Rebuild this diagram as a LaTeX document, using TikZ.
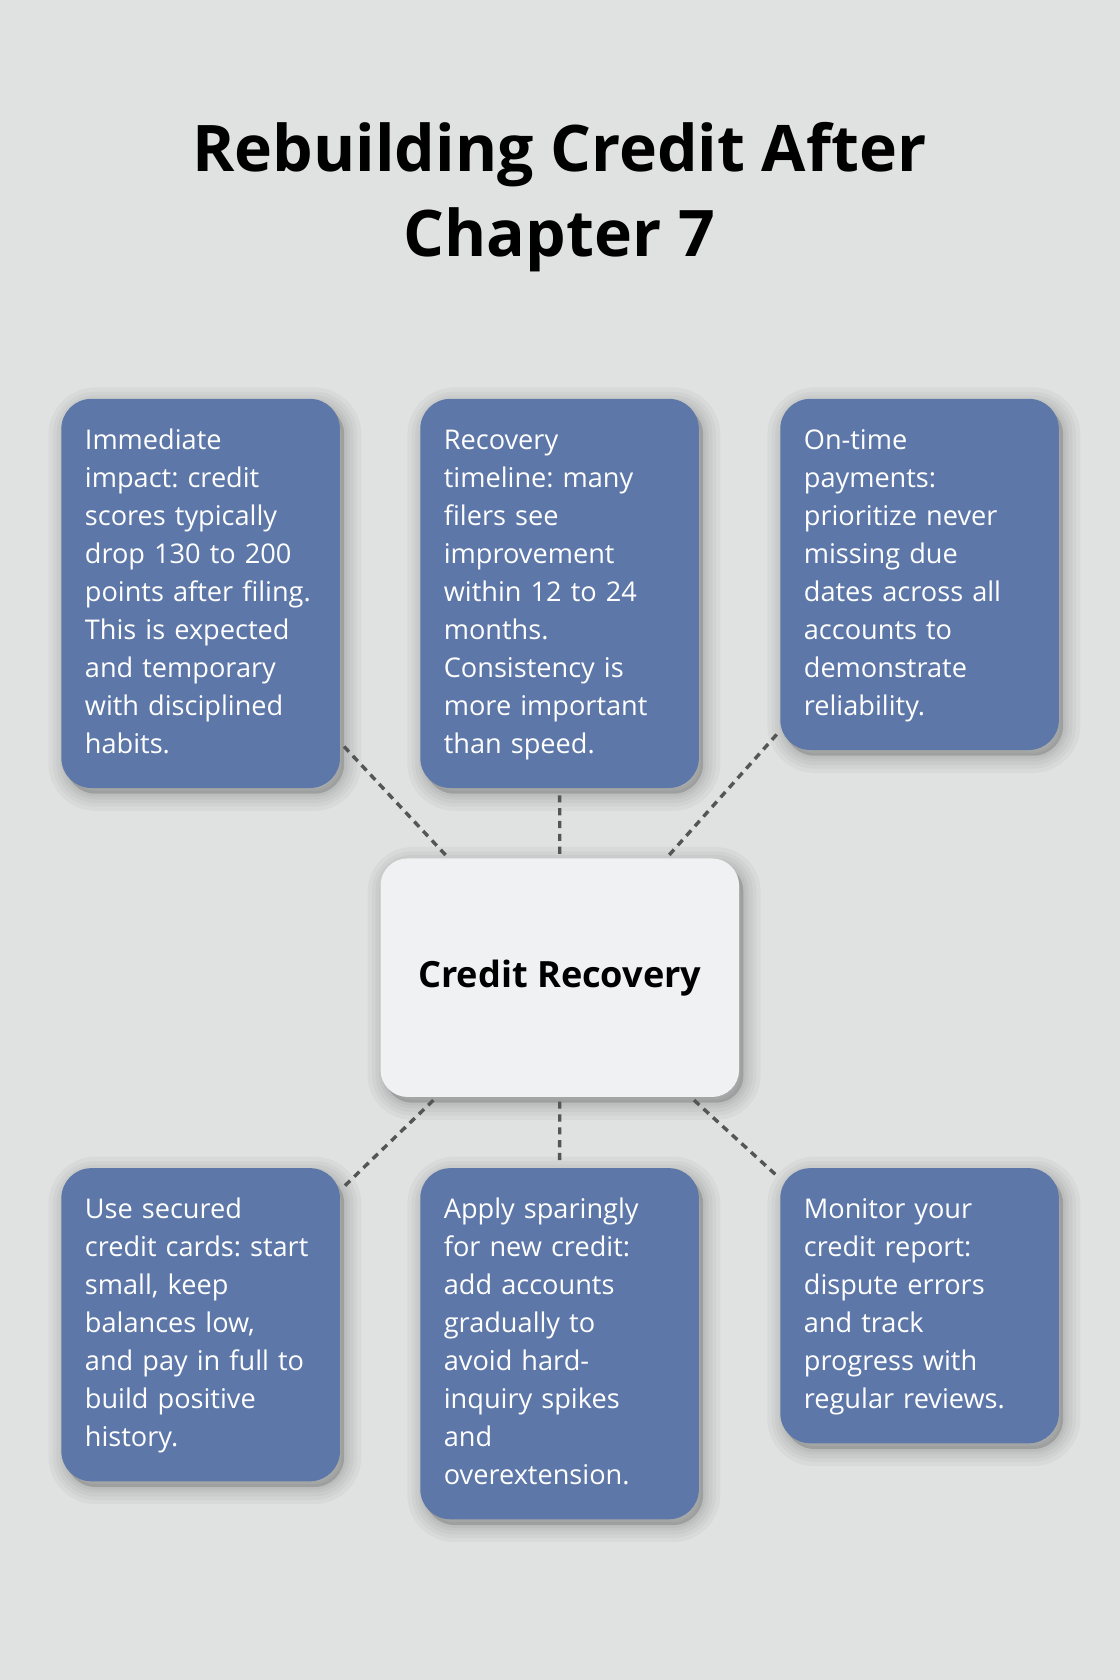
\documentclass[tikz,border=0pt]{standalone}
\usepackage{fontspec}
\setmainfont{Open Sans}
\frenchspacing
\definecolor{pagebg}{HTML}{E0E2E1}
\definecolor{cardblue}{HTML}{5D77A8}
\definecolor{hubgray}{HTML}{F0F1F3}
\definecolor{linkgray}{HTML}{555555}
\tikzset{
  shadowlayer/.style={preaction={fill=black, fill opacity=0.03, draw=black, draw opacity=0.03,
    line width=#1, transform canvas={xshift=3pt, yshift=-4pt}}},
  softshadow/.style={shadowlayer=24pt, shadowlayer=18pt, shadowlayer=13pt, shadowlayer=8pt,
    shadowlayer=4pt},
  card/.style={anchor=north west, fill=cardblue, rounded corners=21pt,
    text=white, text width=162pt, align=left, inner xsep=16.5pt, inner ysep=16.5pt,
    font=\fontsize{19pt}{26.6pt}\selectfont,
    execute at begin node=\strut, execute at end node=\strut, softshadow},
  hub/.style={fill=hubgray, rounded corners=19pt, minimum width=251pt, minimum height=167pt,
    font=\bfseries\fontsize{25.3pt}{30pt}\selectfont, softshadow},
  link/.style={draw=linkgray, line width=2.4pt, dash pattern=on 5pt off 4pt, shorten <=3pt, shorten >=3pt}
}
\begin{document}
\begin{tikzpicture}[x=0.75pt,y=-0.75pt]
  \fill[pagebg] (0,0) rectangle (1045,1568);
  \useasboundingbox (0,0) rectangle (1045,1568);
  \node[align=center, text=black, font=\bfseries\fontsize{45pt}{60pt}\selectfont] (title) at (522,184)
    {Rebuilding Credit After\\Chapter 7};
  % hub
  \node[hub] (hub) at (522.5,912.5) {\raisebox{-3pt}{Credit Recovery}};
  % top row
  \node[card] (impact) at (57,372) {Immediate\\impact: credit\\scores typically\\drop 130 to 200\\points after filing.\\This is expected\\and temporary\\with disciplined\\habits.};
  \node[card] (timeline) at (392,372) {Recovery\\timeline: many\\filers see\\improvement\\within 12 to 24\\months.\\Consistency is\\more important\\than speed.};
  \node[card] (ontime) at (728,372) {On-time\\payments:\\prioritize never\\missing due\\dates across all\\accounts to\\demonstrate\\reliability.};
  % bottom row
  \node[card] (secured) at (57,1090) {Use secured\\credit cards: start\\small, keep\\balances low,\\and pay in full to\\build positive\\history.};
  \node[card] (sparing) at (392,1090) {Apply sparingly\\for new credit:\\add accounts\\gradually to\\avoid hard-\\inquiry spikes\\and\\overextension.};
  \node[card] (monitor) at (728,1090) {Monitor your\\credit report:\\dispute errors\\and track\\progress with\\regular reviews.};
  \foreach \n in {impact,timeline,ontime,secured,sparing,monitor}
    \draw[link] (hub) -- (\n);
\end{tikzpicture}
\end{document}
